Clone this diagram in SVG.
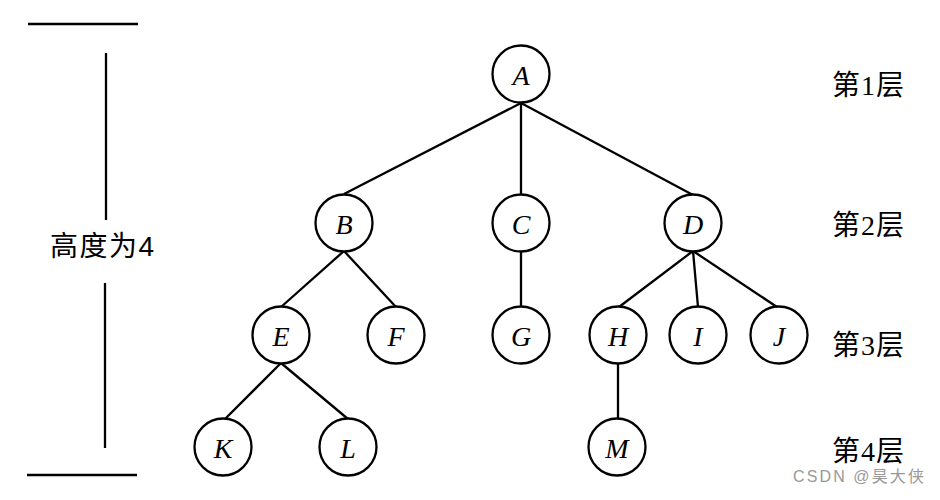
<svg xmlns="http://www.w3.org/2000/svg" width="940" height="500" viewBox="0 0 940 500">
<style>
.n circle{fill:#fff;stroke:#000;stroke-width:2.3}
.n text{font-family:"Liberation Serif","DejaVu Serif",serif;font-style:italic;font-size:28px;text-anchor:middle;dominant-baseline:central;fill:#000}
.e line{stroke:#000;stroke-width:2.3}
.lv{font-family:"Liberation Serif","Noto Sans CJK SC",serif;font-size:28px;fill:#000}
.h{font-family:"Liberation Sans","Noto Sans CJK SC",sans-serif;font-size:28px;fill:#000}
.m line{stroke:#000;stroke-width:2.3}
.wm{font-family:"Liberation Sans","Noto Sans CJK SC",sans-serif;font-size:16px;fill:#999}
</style>
<rect width="940" height="500" fill="#fff"/>
<g class="m" id="height-marker">
<line x1="28" y1="24" x2="138" y2="24"/>
<line x1="106" y1="53" x2="106" y2="220"/>
<line x1="105" y1="283" x2="105" y2="448"/>
<line x1="27" y1="475" x2="137" y2="475"/>
<text class="h" x="50" y="256" textLength="104">高度为4</text>
</g>
<g class="e" id="edges">
<line x1="521" y1="103" x2="344" y2="194"/>
<line x1="521" y1="103" x2="521" y2="195"/>
<line x1="521" y1="103" x2="693" y2="195"/>
<line x1="344" y1="251" x2="281" y2="307"/>
<line x1="344" y1="251" x2="396" y2="307"/>
<line x1="521" y1="251" x2="521" y2="307"/>
<line x1="693" y1="251" x2="619" y2="307"/>
<line x1="693" y1="251" x2="698" y2="307"/>
<line x1="693" y1="251" x2="777" y2="307"/>
<line x1="281" y1="363" x2="225" y2="419"/>
<line x1="281" y1="363" x2="348" y2="419"/>
<line x1="618" y1="363" x2="618" y2="419"/>
</g>
<g class="n" id="A"><circle cx="521" cy="74" r="28.5"/><text x="521" y="75">A</text></g>
<g class="n" id="B"><circle cx="344" cy="223" r="28.5"/><text x="344" y="224">B</text></g>
<g class="n" id="C"><circle cx="521" cy="223" r="28.5"/><text x="521" y="224">C</text></g>
<g class="n" id="D"><circle cx="693" cy="223" r="28.5"/><text x="693" y="224">D</text></g>
<g class="n" id="E"><circle cx="281" cy="335" r="28.5"/><text x="281" y="336">E</text></g>
<g class="n" id="F"><circle cx="396" cy="335" r="28.5"/><text x="396" y="336">F</text></g>
<g class="n" id="G"><circle cx="521" cy="335" r="28.5"/><text x="521" y="336">G</text></g>
<g class="n" id="H"><circle cx="618" cy="335" r="28.5"/><text x="618" y="336">H</text></g>
<g class="n" id="I"><circle cx="698" cy="335" r="28.5"/><text x="698" y="336">I</text></g>
<g class="n" id="J"><circle cx="779" cy="335" r="28.5"/><text x="779" y="336">J</text></g>
<g class="n" id="K"><circle cx="223" cy="447" r="28.5"/><text x="223" y="448">K</text></g>
<g class="n" id="L"><circle cx="348" cy="447" r="28.5"/><text x="348" y="448">L</text></g>
<g class="n" id="M"><circle cx="617" cy="447" r="28.5"/><text x="617" y="448">M</text></g>
<g id="levels">
<text class="lv" x="832" y="95" textLength="72">第1层</text>
<text class="lv" x="832" y="235" textLength="72">第2层</text>
<text class="lv" x="832" y="355" textLength="72">第3层</text>
<text class="lv" x="832" y="461" textLength="72">第4层</text>
</g>
<text class="wm" x="793" y="482" textLength="131">CSDN @昊大侠</text>
</svg>
